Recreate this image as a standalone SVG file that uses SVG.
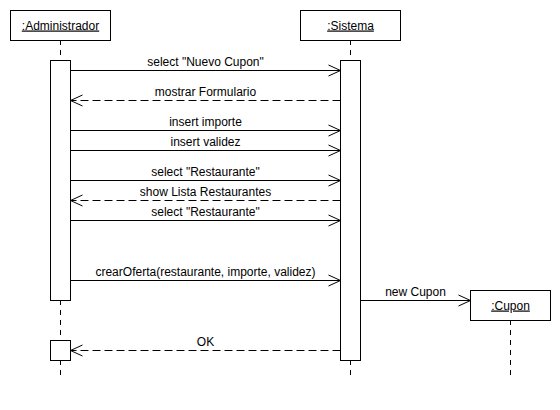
<svg xmlns="http://www.w3.org/2000/svg" width="560" height="410" viewBox="0 0 560 410">
  <style>
    .box { fill: #ffffff; stroke: #000000; stroke-width: 1; }
    .life { stroke: #000000; stroke-width: 1; stroke-dasharray: 5 5; fill: none; }
    .msg { stroke: #000000; stroke-width: 1; fill: none; }
    .ret { stroke: #000000; stroke-width: 1; stroke-dasharray: 8 4; fill: none; }
    .lbl { font-family: "Liberation Sans", Arial, sans-serif; font-size: 12px; fill: #000000; text-anchor: middle; }
    .name { text-decoration: underline; }
  </style>
  <defs>
    <marker id="open" viewBox="0 0 14 14" refX="13" refY="7" markerWidth="14" markerHeight="14" markerUnits="userSpaceOnUse" orient="auto">
      <polyline points="1,1.5 13,7 1,12.5" fill="none" stroke="#000000" stroke-width="1"/>
    </marker>
  </defs>
  <rect width="560" height="410" fill="#ffffff"/>

  <!-- lifelines -->
  <g id="lifelines">
    <line class="life" x1="60.5" y1="40" x2="60.5" y2="380"/>
    <line class="life" x1="350.5" y1="40" x2="350.5" y2="380"/>
    <line class="life" x1="510.5" y1="320" x2="510.5" y2="380"/>
  </g>

  <g id="administrador">
    <rect class="box" x="10.5" y="10.5" width="100" height="30"/>
    <text class="lbl name" x="60.5" y="29.5">:Administrador</text>
    <rect class="box" x="50.5" y="60.5" width="20" height="240"/>
    <rect class="box" x="50.5" y="340.5" width="20" height="20"/>
  </g>

  <g id="sistema">
    <rect class="box" x="300.5" y="10.5" width="100" height="30"/>
    <text class="lbl name" x="350.5" y="29.5">:Sistema</text>
    <rect class="box" x="340.5" y="60.5" width="20" height="300"/>
  </g>

  <g id="cupon">
    <rect class="box" x="470.5" y="290.5" width="80" height="30"/>
    <text class="lbl name" x="510.5" y="309.5">:Cupon</text>
  </g>

  <!-- messages -->
  <g id="connectors">
    <line class="msg" x1="70.5" y1="70.5" x2="340.5" y2="70.5" marker-end="url(#open)"/>
    <line class="ret" x1="340.5" y1="100.5" x2="70.5" y2="100.5" marker-end="url(#open)"/>
    <line class="msg" x1="70.5" y1="130.5" x2="340.5" y2="130.5" marker-end="url(#open)"/>
    <line class="msg" x1="70.5" y1="150.5" x2="340.5" y2="150.5" marker-end="url(#open)"/>
    <line class="msg" x1="70.5" y1="180.5" x2="340.5" y2="180.5" marker-end="url(#open)"/>
    <line class="ret" x1="340.5" y1="200.5" x2="70.5" y2="200.5" marker-end="url(#open)"/>
    <line class="msg" x1="70.5" y1="220.5" x2="340.5" y2="220.5" marker-end="url(#open)"/>
    <line class="msg" x1="70.5" y1="280.5" x2="340.5" y2="280.5" marker-end="url(#open)"/>
    <line class="msg" x1="360.5" y1="300.5" x2="470.5" y2="300.5" marker-end="url(#open)"/>
    <line class="ret" x1="340.5" y1="350.5" x2="70.5" y2="350.5" marker-end="url(#open)"/>
  </g>

  <g id="labels">
    <text class="lbl" x="205.5" y="66">select "Nuevo Cupon"</text>
    <text class="lbl" x="205.5" y="96">mostrar Formulario</text>
    <text class="lbl" x="205.5" y="126">insert importe</text>
    <text class="lbl" x="205.5" y="146">insert validez</text>
    <text class="lbl" x="205.5" y="176">select "Restaurante"</text>
    <text class="lbl" x="205.5" y="196">show Lista Restaurantes</text>
    <text class="lbl" x="205.5" y="216">select "Restaurante"</text>
    <text class="lbl" x="205.5" y="276">crearOferta(restaurante, importe, validez)</text>
    <text class="lbl" x="415.5" y="296">new Cupon</text>
    <text class="lbl" x="205.5" y="346">OK</text>
  </g>
</svg>
